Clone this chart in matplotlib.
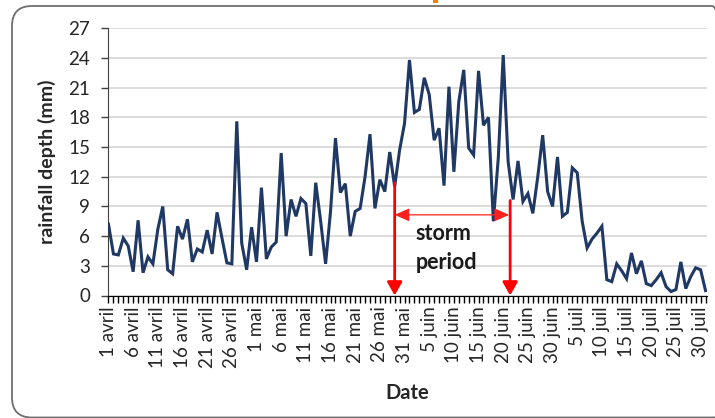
import matplotlib
matplotlib.use('Agg')
import matplotlib.pyplot as plt
from matplotlib.patches import FancyBboxPatch, Rectangle
from matplotlib.transforms import IdentityTransform

# daily rainfall, 1 avril -> 31 juil
rain = [7.2, 4.2, 4.1, 5.8, 5.0, 2.4, 7.6, 2.3, 3.9, 3.2,
        6.7, 9.0, 2.6, 2.2, 7.0, 5.7, 7.7, 3.4, 4.7, 4.4,
        6.6, 4.2, 8.4, 5.8, 3.3, 3.2, 17.6, 5.3, 2.6, 6.9,
        3.4, 10.9, 3.7, 4.9, 5.4, 14.4, 6.0, 9.7, 8.0, 9.8,
        9.3, 4.0, 11.4, 7.5, 3.2, 8.5, 15.9, 10.4, 11.3, 6.0,
        8.5, 8.8, 12.0, 16.3, 8.8, 11.7, 10.5, 14.5, 11.0, 14.7,
        17.4, 23.8, 18.5, 18.8, 22.0, 20.3, 15.7, 16.9, 11.1, 21.1,
        12.5, 19.6, 22.8, 14.9, 14.2, 22.7, 17.2, 18.0, 7.5, 13.9,
        24.3, 13.5, 9.7, 13.6, 9.5, 10.3, 8.3, 12.0, 16.2, 10.5,
        9.0, 14.0, 8.0, 8.4, 12.9, 12.4, 7.5, 4.8, 5.7, 6.3,
        7.0, 1.6, 1.4, 3.2, 2.5, 1.7, 4.3, 2.2, 3.5, 1.2,
        1.0, 1.6, 2.3, 0.9, 0.4, 0.6, 3.4, 0.7, 1.9, 2.8,
        2.6, 0.5]
days = list(range(len(rain)))

date_labels = ['1 avril', '6 avril', '11 avril', '16 avril', '21 avril', '26 avril',
               '1 mai', '6 mai', '11 mai', '16 mai', '21 mai', '26 mai', '31 mai',
               '5 juin', '10 juin', '15 juin', '20 juin', '25 juin', '30 juin',
               '5 juil', '10 juil', '15 juil', '20 juil', '25 juil', '30 juil']
label_days = days[::5]

storm_start = 58
storm_end = 81.4
storm_top = [11.4, 9.6]
storm_arrow_y = 8.15

plt.rcParams['font.family'] = ['Lato', 'DejaVu Sans']
txt = '#262626'

fig = plt.figure(figsize=(7.15, 4.18), dpi=100)
ax = fig.add_axes([108 / 715, 1 - 295.5 / 418, 599 / 715, 267.2 / 418])

ax.plot(days, rain, color='#203864', lw=2.2, solid_joinstyle='miter', zorder=3)

ax.set_ylim(0, 27)
ax.set_yticks(range(0, 28, 3))
ax.set_xlim(-0.1, 121.3)
ax.set_xticks(label_days)
ax.set_xticklabels(date_labels, rotation=90)
ax.set_xticks(days, minor=True)
ax.yaxis.grid(True, color='#d9d9d9', lw=1.3)
ax.set_axisbelow(True)

for s in ['top', 'right']:
    ax.spines[s].set_visible(False)
ax.spines['left'].set_color('#404040')
ax.spines['bottom'].set_color('#000000')
ax.tick_params(axis='y', length=5, width=1, color='#404040', pad=8, labelsize=13.5, labelcolor=txt)
ax.tick_params(axis='x', which='both', length=5, width=1, color='#000000', pad=3, labelsize=13.5, labelcolor=txt)

ax.set_ylabel('rainfall depth (mm)', fontsize=14, fontweight='bold', color=txt)
ax.yaxis.set_label_coords(-0.087, 0.5)
ax.set_xlabel('Date', fontsize=14.5, fontweight='bold', color=txt)
ax.xaxis.set_label_coords(0.499, -0.327)

# storm period markers
for xs, yt in zip([storm_start, storm_end], storm_top):
    ax.annotate('', xy=(xs, 0), xytext=(xs, yt),
                arrowprops=dict(arrowstyle='-|>,head_length=0.8,head_width=0.45',
                                color='#ff0000', lw=2, shrinkA=0, shrinkB=0), zorder=4)
ax.annotate('', xy=(storm_end - 0.2, storm_arrow_y), xytext=(storm_start, storm_arrow_y),
            arrowprops=dict(arrowstyle='<|-|>,head_length=0.9,head_width=0.4',
                            color='#ff2020', lw=0.9, shrinkA=0, shrinkB=0), zorder=4)
ax.text(62.3, 6.3, 'storm', fontsize=15.5, fontweight='bold', color='#1a1a1a', va='center', ha='left')
ax.text(62.3, 3.35, 'period', fontsize=15.5, fontweight='bold', color='#1a1a1a', va='center', ha='left')

# rounded chart frame and cut off title piece
frame = FancyBboxPatch((12, 0.5), 720, 411.5, boxstyle='round,pad=0,rounding_size=20',
                       transform=IdentityTransform(), facecolor='none', edgecolor='#6e6e6e', lw=1.3)
fig.add_artist(frame)
fig.add_artist(Rectangle((433, 415), 5, 3, transform=IdentityTransform(), facecolor='#ff7f00', edgecolor='none'))

fig.savefig('out.png', dpi=100)
